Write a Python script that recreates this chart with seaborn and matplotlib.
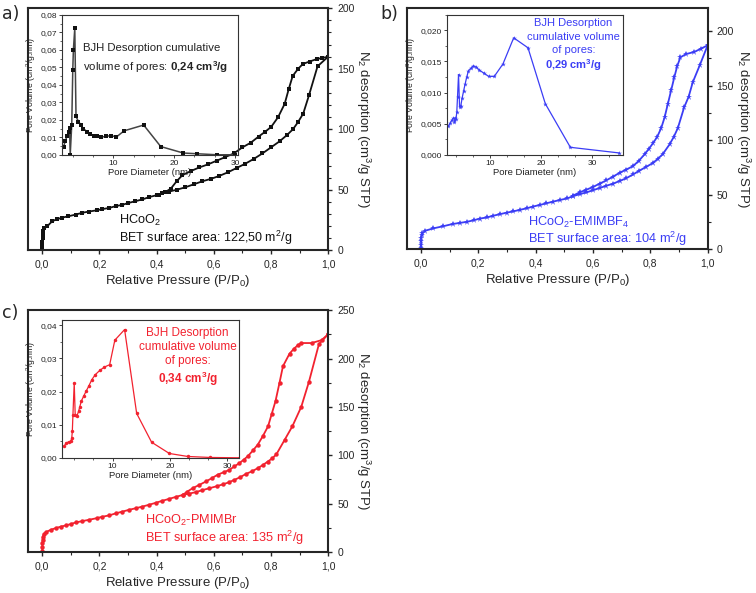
import numpy as np
import matplotlib
matplotlib.use('Agg')
import matplotlib.pyplot as plt
import seaborn as sns
from matplotlib.ticker import MultipleLocator, FuncFormatter

# --- panel a: HCoO2 (black) ---
a_ads_p = [0.0, 0.0003, 0.0006, 0.001, 0.002, 0.004, 0.007, 0.018, 0.035, 0.05, 0.07, 0.09, 0.117, 0.14,
           0.164, 0.19, 0.21, 0.235, 0.257, 0.28, 0.30, 0.325, 0.35, 0.375, 0.40, 0.42, 0.444, 0.47, 0.50,
           0.53, 0.56, 0.59, 0.62, 0.65, 0.68, 0.71, 0.74, 0.77, 0.80, 0.83, 0.855, 0.877, 0.895, 0.913,
           0.933, 0.963, 1.0]
a_ads_v = [1, 4, 7, 10, 13, 16, 18, 20, 24, 25.5, 27, 28, 29.5, 31, 32, 33, 34, 35, 36.5, 37.5, 39, 40.5,
           42, 44, 45.5, 47, 48.5, 50, 52, 54.5, 57, 59, 61.5, 64.5, 68, 71.5, 75.5, 80, 85, 90, 95, 100,
           106, 113, 128, 152, 160]
a_des_p = [1.0, 0.98, 0.96, 0.935, 0.912, 0.895, 0.876, 0.862, 0.848, 0.825, 0.801, 0.78, 0.757, 0.73,
           0.70, 0.67, 0.64, 0.61, 0.58, 0.55, 0.52, 0.49, 0.47, 0.45, 0.43, 0.41]
a_des_v = [160, 159, 158, 156, 154, 150, 144, 133, 121, 110, 102, 98, 94, 89, 85, 80, 77, 74, 71, 68.5,
           65.5, 62, 57, 51, 48, 46]
a_pore_d = [1.85, 2.13, 2.4, 2.67, 2.84, 2.95, 3.2, 3.37, 3.47, 3.7, 3.9, 4.3, 4.7, 5.1, 5.7, 6.2, 6.8,
            7.3, 8.0, 8.8, 9.7, 10.5, 11.8, 15.0, 17.8, 21.5, 23.7, 27.0, 30.0]
a_pore_v = [0.0047, 0.0076, 0.0105, 0.0133, 0.0152, 0.0, 0.0171, 0.0486, 0.060, 0.0724, 0.0219, 0.019,
            0.0171, 0.0149, 0.0133, 0.012, 0.011, 0.0105, 0.0101, 0.0105, 0.011, 0.0101, 0.0137, 0.017,
            0.0047, 0.001, 0.0006, 0.0, 0.0]

# --- panel b: HCoO2-EMIMBF4 (blue) ---
b_ads_p = [0.0, 0.0003, 0.0006, 0.001, 0.002, 0.005, 0.014, 0.043, 0.078, 0.11, 0.135, 0.16, 0.185,
           0.205, 0.23, 0.25, 0.275, 0.30, 0.32, 0.345, 0.37, 0.39, 0.415, 0.437, 0.46, 0.484, 0.51,
           0.53, 0.555, 0.577, 0.60, 0.623, 0.645, 0.67, 0.693, 0.716, 0.74, 0.762, 0.786, 0.809, 0.827,
           0.843, 0.867, 0.882, 0.896, 0.918, 0.934, 0.948, 0.973, 1.0]
b_ads_v = [1, 4, 7, 10, 12.5, 14.5, 16.8, 19, 21, 23, 24, 25, 26.5, 28, 29, 30.5, 32, 33.5, 34.5, 36,
           37.5, 39, 40.5, 42, 43.5, 45, 46.5, 48.5, 50.5, 52, 54, 56, 58, 60, 62.5, 65, 68.5, 72, 75.5,
           79, 83, 87, 96, 103, 111, 130, 140, 153, 169, 187]
b_des_p = [1.0, 0.977, 0.954, 0.925, 0.905, 0.894, 0.884, 0.873, 0.861, 0.85, 0.838, 0.824, 0.809,
           0.795, 0.78, 0.76, 0.739, 0.716, 0.693, 0.67, 0.646, 0.623, 0.60, 0.577, 0.553, 0.53]
b_des_v = [187, 184, 181, 179, 176, 168, 158, 146, 133, 121, 111, 103, 97, 92, 87, 81, 76, 73, 70, 66.5,
           63, 60, 57, 54.5, 52, 49]
b_pore_d = [1.83, 2.16, 2.5, 2.8, 3.1, 3.0, 3.3, 3.46, 3.6, 3.8, 4.0, 4.25, 4.5, 4.8, 5.1, 5.4, 5.75,
            6.2, 6.7, 7.25, 7.9, 8.8, 9.7, 10.8, 12.5, 14.6, 17.4, 20.8, 25.7, 35.2]
b_pore_v = [0.0046, 0.0051, 0.0056, 0.0059, 0.0059, 0.0052, 0.0057, 0.0069, 0.0093, 0.0129, 0.0077,
            0.0079, 0.0091, 0.0103, 0.0114, 0.0125, 0.0135, 0.0139, 0.0143, 0.0141, 0.0136, 0.0131,
            0.0126, 0.0126, 0.0146, 0.0188, 0.0172, 0.0082, 0.0012, 0.0003]

# --- panel c: HCoO2-PMIMBr (red) ---
c_ads_p = [0.0, 0.0003, 0.0006, 0.001, 0.002, 0.005, 0.012, 0.03, 0.047, 0.065, 0.082, 0.1, 0.117, 0.14,
           0.164, 0.19, 0.21, 0.235, 0.257, 0.28, 0.304, 0.327, 0.35, 0.375, 0.398, 0.42, 0.444, 0.467,
           0.491, 0.515, 0.538, 0.56, 0.585, 0.61, 0.632, 0.652, 0.672, 0.693, 0.713, 0.734, 0.754, 0.772,
           0.789, 0.805, 0.819, 0.848, 0.875, 0.906, 0.933, 0.968, 1.0]
c_ads_v = [1, 5, 9, 13, 16, 18.5, 20.6, 23, 24.8, 26.3, 27.5, 29, 30.6, 32, 33.4, 35, 36.5, 38, 40, 41.8,
           43.7, 45.3, 47, 49, 51, 53, 55, 57, 59, 60.5, 62, 64, 66, 68, 70, 72, 74.6, 77.5, 80.8, 83.5,
           86.7, 90, 93.5, 97, 101, 116, 130, 150, 176, 215, 225]
c_des_p = [1.0, 0.977, 0.942, 0.906, 0.895, 0.88, 0.865, 0.842, 0.83, 0.816, 0.803, 0.79, 0.772, 0.754,
           0.737, 0.719, 0.705, 0.69, 0.672, 0.655, 0.635, 0.614, 0.594, 0.573, 0.55, 0.526, 0.505, 0.491]
c_des_v = [225, 219, 216, 216, 214, 210, 205, 192, 175, 156, 143, 130, 120, 111, 105, 99, 95.5, 92, 88.5,
           85, 82.5, 80, 76.5, 73, 69.5, 66, 62, 59]
c_pore_d = [1.58, 1.93, 2.34, 2.75, 2.9, 3.0, 3.1, 3.33, 3.5, 3.8, 4.1, 4.3, 4.56, 4.97, 5.4, 5.85, 6.4,
            7.0, 7.8, 8.6, 9.5, 10.4, 12.1, 14.2, 16.8, 19.9, 23.1, 27.0, 32.0]
c_pore_v = [0.0035, 0.0045, 0.0048, 0.005, 0.006, 0.008, 0.0128, 0.0226, 0.013, 0.0126, 0.0141, 0.0154,
            0.0171, 0.0186, 0.0201, 0.0216, 0.0236, 0.0251, 0.0264, 0.0274, 0.0281, 0.0355, 0.0387,
            0.0134, 0.0047, 0.0013, 0.0004, 0.0001, 0.0]

sns.set_style('ticks')
plt.rcParams['font.family'] = ['Liberation Sans', 'DejaVu Sans']
plt.rcParams['mathtext.fontset'] = 'custom'
plt.rcParams['mathtext.rm'] = 'Liberation Sans'
plt.rcParams['mathtext.it'] = 'Liberation Sans:italic'
plt.rcParams['mathtext.bf'] = 'Liberation Sans:bold'

fig = plt.figure(figsize=(7.56, 5.93), dpi=100)


def comma(fmt):
    return FuncFormatter(lambda v, pos: fmt.format(v).replace('.', ','))


def main_panel(rect, ads_p, ads_v, des_p, des_v, color, marker, ms, ymax, ymin_step):
    ax = fig.add_axes(rect)
    for p, v in [(ads_p, ads_v), (des_p, des_v)]:
        sns.lineplot(x=p, y=v, sort=False, estimator=None, color=color, marker=marker,
                     markersize=ms, markeredgewidth=0, linewidth=1.3, ax=ax)
    ax.set_xlim(-0.05, 1.0)
    ax.set_ylim(0, ymax)
    ax.yaxis.tick_right()
    ax.yaxis.set_label_position('right')
    ax.xaxis.set_major_locator(MultipleLocator(0.2))
    ax.xaxis.set_minor_locator(MultipleLocator(0.1))
    ax.yaxis.set_major_locator(MultipleLocator(50))
    ax.yaxis.set_minor_locator(MultipleLocator(ymin_step))
    ax.xaxis.set_major_formatter(comma('{:.1f}'))
    ax.tick_params(labelsize=7.5, length=3, width=1)
    ax.tick_params(which='minor', length=2, width=0.8)
    for s in ax.spines.values():
        s.set_visible(True)
        s.set_linewidth(1.5)
    ax.set_xlabel('Relative Pressure (P/P$_0$)', fontsize=9.5, labelpad=3)
    ax.set_ylabel('N$_2$ desorption (cm$^3$/g STP)', fontsize=9.5, rotation=270, labelpad=13)
    return ax


def inset_panel(rect, d, v, color, marker, ms, xlim, ylim, ystep, yfmt, lcolor=None, lw=0.9):
    ax = fig.add_axes(rect)
    ax.set_facecolor('none')
    sns.lineplot(x=d, y=v, sort=False, estimator=None, color=lcolor or color, marker=marker,
                 markersize=ms, markeredgewidth=0, markerfacecolor=color, linewidth=lw, ax=ax)
    ax.set_xlim(*xlim)
    ax.set_ylim(*ylim)
    ax.xaxis.set_major_locator(MultipleLocator(10))
    ax.xaxis.set_minor_locator(MultipleLocator(10 / 3))
    ax.yaxis.set_major_locator(MultipleLocator(ystep))
    ax.yaxis.set_minor_locator(MultipleLocator(ystep / 2))
    ax.yaxis.set_major_formatter(comma(yfmt))
    ax.tick_params(labelsize=6, length=2, width=0.6, pad=1.5, colors='#222222')
    ax.tick_params(which='minor', length=1.2, width=0.5)
    for s in ax.spines.values():
        s.set_visible(True)
        s.set_linewidth(0.8)
        s.set_color('#333333')
    ax.set_xlabel('Pore Diameter (nm)', fontsize=6.8, labelpad=1, color='#222222')
    ax.set_ylabel('Pore Volume (cm$^3$/g.nm)', fontsize=6.2, labelpad=1.5, color='#222222')
    return ax


# panel a
black = '#111111'
ax_a = main_panel([0.037, 0.578, 0.397, 0.408], a_ads_p, a_ads_v, a_des_p, a_des_v,
                  black, 's', 3.2, 200, 10)
ax_a.text(0.27, 24.8, 'HCoO$_2$', fontsize=9.2, color=black, va='center')
ax_a.text(0.27, 9.9, 'BET surface area: 122,50 m$^2$/g', fontsize=9, color=black, va='center')
in_a = inset_panel([0.082, 0.739, 0.233, 0.236], a_pore_d, a_pore_v, black, 's', 2.2,
                   (1.6, 30.5), (0, 0.08), 0.01, '{:.2f}', lcolor='#444444', lw=1.1)
in_a.text(0.12, 0.764, 'BJH Desorption cumulative', transform=in_a.transAxes, fontsize=8.2,
          color='#222222', va='center')
in_a.text(0.12, 0.63, r'volume of pores: $\mathbf{0{,}24\ cm^3/g}$', transform=in_a.transAxes,
          fontsize=8.2, color='#222222', va='center')

# panel b
blue = '#3b3df5'
ax_b = main_panel([0.538, 0.580, 0.398, 0.406], b_ads_p, b_ads_v, b_des_p, b_des_v,
                  blue, '*', 4.5, 221, 25)
ax_b.text(0.372, 24.8, 'HCoO$_2$-EMIMBF$_4$', fontsize=9.2, color=blue, va='center')
ax_b.text(0.372, 9.2, 'BET surface area: 104 m$^2$/g', fontsize=9.2, color=blue, va='center')
in_b = inset_panel([0.591, 0.739, 0.233, 0.236], b_pore_d, b_pore_v, blue, '*', 3.5,
                   (1.5, 36), (0, 0.0225), 0.005, '{:.3f}')
for yy, txt in [(0.94, 'BJH Desorption'), (0.84, 'cumulative volume'), (0.75, 'of pores:'),
                (0.64, r'$\mathbf{0{,}29\ cm^3/g}$')]:
    in_b.text(0.72, yy, txt, transform=in_b.transAxes, fontsize=8, color=blue, ha='center', va='center')

# panel c
red = '#f2222f'
ax_c = main_panel([0.037, 0.069, 0.397, 0.408], c_ads_p, c_ads_v, c_des_p, c_des_v,
                  red, 'o', 3.2, 250, 25)
ax_c.text(0.36, 33, 'HCoO$_2$-PMIMBr', fontsize=9.2, color=red, va='center')
ax_c.text(0.36, 14.5, 'BET surface area: 135 m$^2$/g', fontsize=9.2, color=red, va='center')
in_c = inset_panel([0.082, 0.228, 0.234, 0.233], c_pore_d, c_pore_v, red, 'o', 2.5,
                   (1.2, 32), (0, 0.0417), 0.01, '{:.2f}')
for yy, txt in [(0.905, 'BJH Desorption'), (0.80, 'cumulative volume'), (0.70, 'of pores:'),
                (0.57, r'$\mathbf{0{,}34\ cm^3/g}$')]:
    in_c.text(0.71, yy, txt, transform=in_c.transAxes, fontsize=8.5, color=red, ha='center', va='center')

fig.text(0.002, 0.992, 'a)', fontsize=12.5, va='top', family='DejaVu Sans')
fig.text(0.503, 0.992, 'b)', fontsize=12.5, va='top', family='DejaVu Sans')
fig.text(0.002, 0.488, 'c)', fontsize=12.5, va='top', family='DejaVu Sans')

fig.savefig('out.png', dpi=100)
